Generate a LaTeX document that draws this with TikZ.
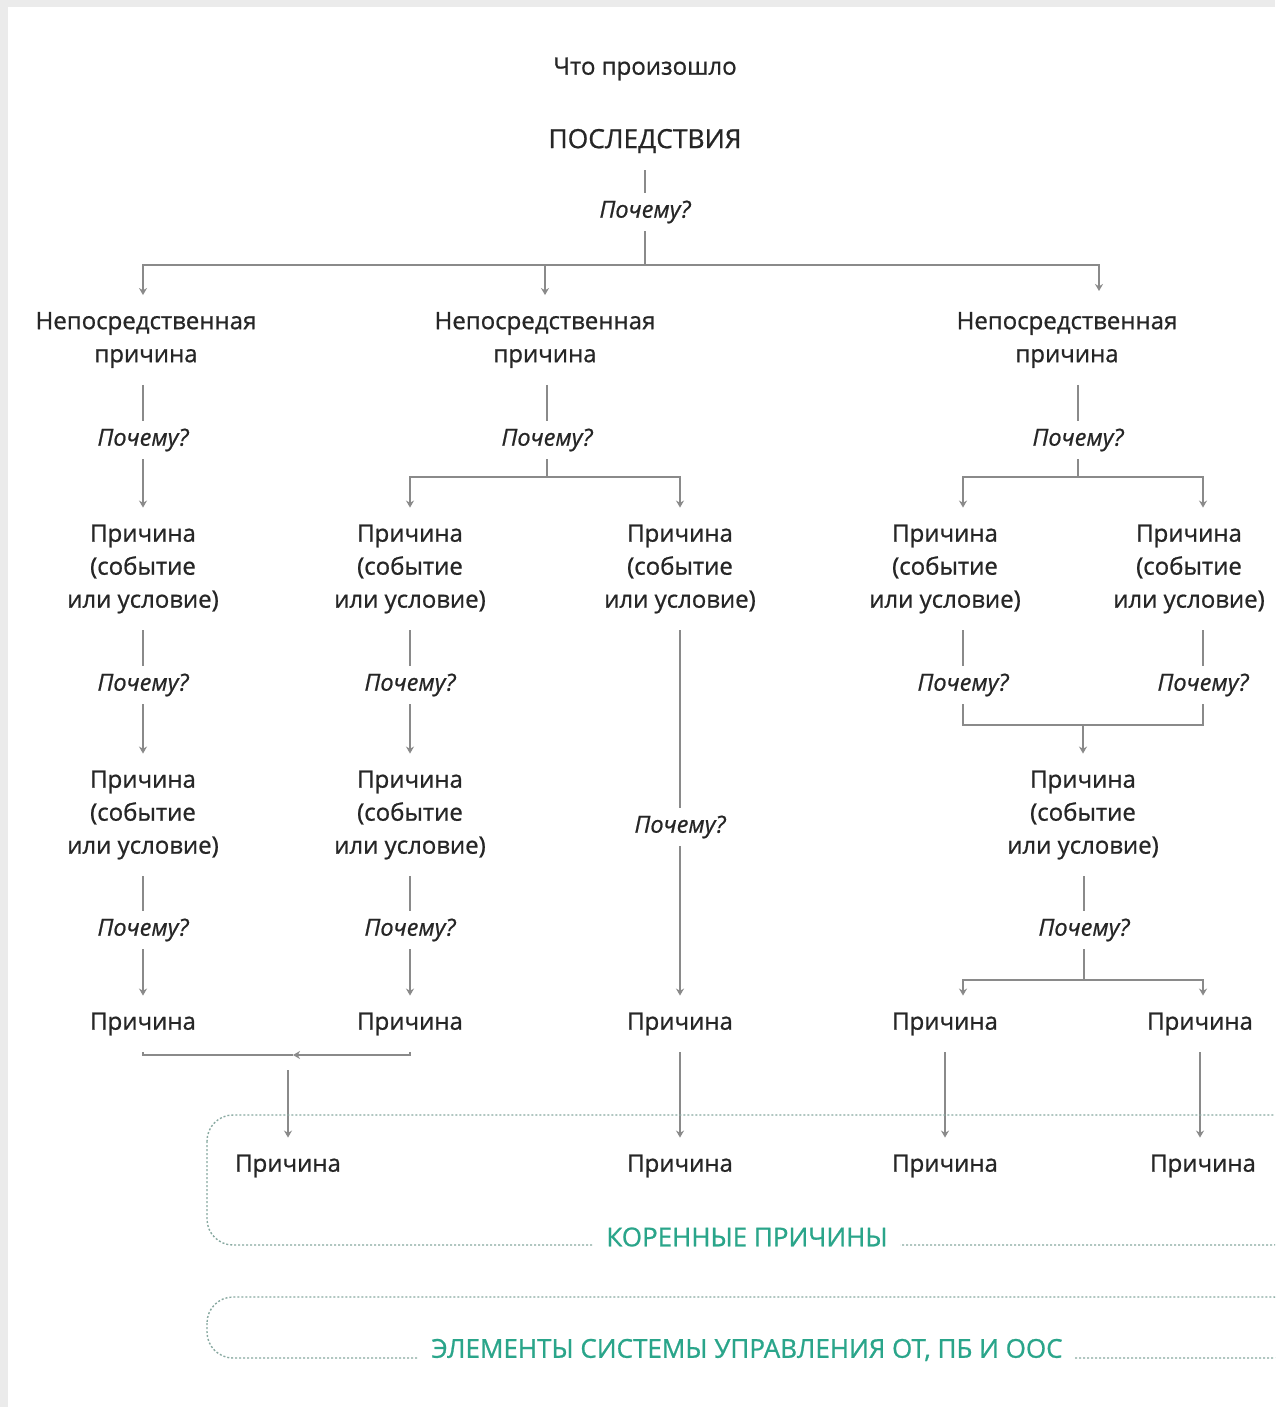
\documentclass[tikz,border=0pt]{standalone}
\usepackage{fontspec}
\setmainfont{Open Sans}[FakeBold=0.8]
\usetikzlibrary{arrows.meta}
\definecolor{ink}{HTML}{262626}
\definecolor{linec}{HTML}{8A8A8A}
\definecolor{teal}{HTML}{2AA58A}
\definecolor{dotc}{HTML}{88A9A1}
\definecolor{frame}{HTML}{EBEBEB}
\begin{document}
\begin{tikzpicture}[x=1pt,y=-1pt,
  txt/.style={font=\fontsize{24}{33}\selectfont, text=ink, align=center, inner xsep=0, inner ysep=17, outer sep=0, yshift=-3pt},
  why/.style={font=\fontsize{23.5}{26}\selectfont\itshape, text=ink, inner xsep=0, inner ysep=8, outer sep=0, yshift=-2pt},
  ln/.style={draw=linec, line width=1.1},
  arr/.style={ln, -{Stealth[length=7pt,width=8pt]}},
  dotbox/.style={draw=dotc, line width=1.4, dash pattern=on 2pt off 2pt, rounded corners=26},
  lbl/.style={font=\fontsize{26}{30}\selectfont, text=teal, fill=white, inner xsep=12, inner ysep=6}
]
\useasboundingbox (0,0) rectangle (1275,1407);
\clip (0,0) rectangle (1275,1407);
\fill[white] (0,0) rectangle (1275,1407);
\fill[frame] (0,0) rectangle (1275,7);
\fill[frame] (0,0) rectangle (8,1407);

% top
\node[txt, font=\fontsize{24}{28}\selectfont] (what) at (645,66) {Что произошло};
\node[txt, font=\fontsize{26.4}{30}\selectfont] (cons) at (645,138) {ПОСЛЕДСТВИЯ};
\node[why] (w0) at (645,210) {Почему?};
\coordinate (j0) at (645,265);
\coordinate (t3) at (1099,291);

% level 1
\node[txt] (n1) at (146,337) {Непосредственная\\причина};
\node[txt] (n2) at (545,337) {Непосредственная\\причина};
\node[txt] (n3) at (1067,337) {Непосредственная\\причина};

% column 1
\node[why] (w11) at (143,438) {Почему?};
\node[txt] (c11) at (143,566) {Причина\\(событие\\или условие)};
\node[why] (w12) at (143,683) {Почему?};
\node[txt] (c12) at (143,812) {Причина\\(событие\\или условие)};
\node[why] (w13) at (143,928) {Почему?};
\node[txt] (p11) at (143,1021) {Причина};

% column 2
\node[why] (w2) at (547,438) {Почему?};
\coordinate (j2) at (547,477);
\node[txt] (c21) at (410,566) {Причина\\(событие\\или условие)};
\node[why] (w22) at (410,683) {Почему?};
\node[txt] (c23) at (410,812) {Причина\\(событие\\или условие)};
\node[why] (w24) at (410,928) {Почему?};
\node[txt] (p21) at (410,1021) {Причина};
\node[txt] (c22) at (680,566) {Причина\\(событие\\или условие)};
\node[why] (w25) at (680,825) {Почему?};
\node[txt] (p22) at (680,1021) {Причина};

% column 3
\node[why] (w3) at (1078,438) {Почему?};
\coordinate (j3) at (1078,477);
\node[txt] (c31) at (945,566) {Причина\\(событие\\или условие)};
\node[txt] (c32) at (1189,566) {Причина\\(событие\\или условие)};
\node[why] (w31) at (963,683) {Почему?};
\node[why] (w32) at (1203,683) {Почему?};
\coordinate (j4) at (1083,725);
\node[txt] (c33) at (1083,812) {Причина\\(событие\\или условие)};
\node[why] (w33) at (1084,928) {Почему?};
\coordinate (j5) at (1084,980);
\node[txt] (p31) at (945,1021) {Причина};
\node[txt] (p32) at (1200,1021) {Причина};

% roots
\coordinate (m1) at (293,1055);
\coordinate (m1b) at (288,1070);
\node[txt] (r1) at (288,1163) {Причина};
\node[txt] (r2) at (680,1163) {Причина};
\node[txt] (r3) at (945,1163) {Причина};
\node[txt] (r4) at (1203,1163) {Причина};

% connectors top
\draw[ln] (cons) -- (w0);
\draw[ln] (w0) -- (j0);
\draw[arr] (j0) -| (n1.north -| w11);
\draw[arr] (j0 -| n2) -- (n2);
\draw[arr] (j0) -| (t3);

% column 1
\draw[ln] (n1.south -| w11) -- (w11);
\draw[arr] (w11) -- (c11);
\draw[ln] (c11) -- (w12);
\draw[arr] (w12) -- (c12);
\draw[ln] (c12) -- (w13);
\draw[arr] (w13) -- (p11);

% column 2
\draw[ln] (n2.south -| w2) -- (w2);
\draw[ln] (w2) -- (j2);
\draw[arr] (j2) -| (c21);
\draw[arr] (j2) -| (c22);
\draw[ln] (c21) -- (w22);
\draw[arr] (w22) -- (c23);
\draw[ln] (c23) -- (w24);
\draw[arr] (w24) -- (p21);
\draw[ln] (c22) -- (w25);
\draw[arr] (w25) -- (p22);
\draw[arr] (p22) -- (r2);

% merge left
\draw[ln] (p11.south) |- (m1);
\draw[arr] (p21.south) |- (m1);
\draw[arr] (m1b) -- (r1);

% column 3
\draw[ln] (n3.south -| w3) -- (w3);
\draw[ln] (w3) -- (j3);
\draw[arr] (j3) -| (c31.north -| w31);
\draw[arr] (j3) -| (c32.north -| w32);
\draw[ln] (c31.south -| w31) -- (w31);
\draw[ln] (c32.south -| w32) -- (w32);
\draw[ln] (w31) |- (j4);
\draw[ln] (w32) |- (j4);
\draw[arr] (j4) -- (c33);
\draw[ln] (c33.south -| w33) -- (w33);
\draw[ln] (w33) -- (j5);
\draw[arr] (j5) -| (p31.north -| w31);
\draw[arr] (j5) -| (p32.north -| w32);
\draw[arr] (p31) -- (r3);
\draw[arr] (p32.south) -- (p32.south |- r4.north);

% dotted boxes
\draw[dotbox] (207,1115) rectangle (1300,1245);
\node[lbl] (root) at (747,1237) {КОРЕННЫЕ ПРИЧИНЫ};
\draw[dotbox] (207,1297) rectangle (1300,1358);
\node[lbl] (sys) at (747,1350) {ЭЛЕМЕНТЫ СИСТЕМЫ УПРАВЛЕНИЯ ОТ, ПБ И ООС};
\end{tikzpicture}
\end{document}
